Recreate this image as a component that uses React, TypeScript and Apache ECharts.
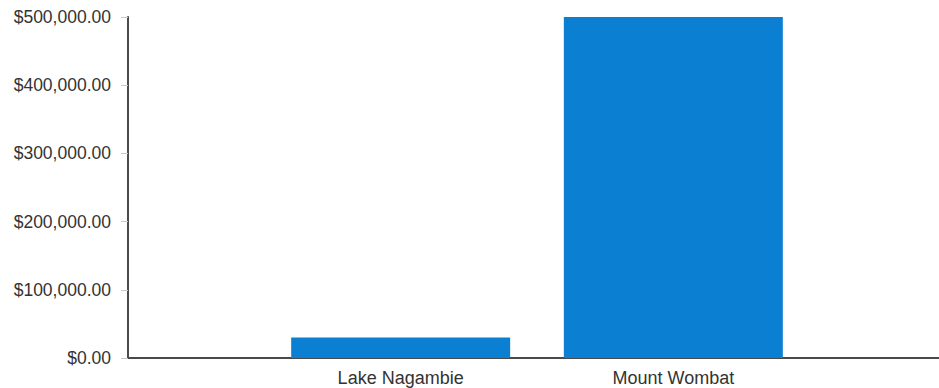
import React, { useEffect, useRef } from "react";
import * as echarts from "echarts";

const categories = ["", "Lake Nagambie", "Mount Wombat", ""];
const values: (number | null)[] = [null, 30000, 500000, null];
const yTicks = [0, 100000, 200000, 300000, 400000, 500000];

function fmt(v: number): string {
  const s = v.toFixed(2);
  const [i, d] = s.split(".");
  return "$" + i.replace(/\B(?=(\d{3})+(?!\d))/g, ",") + "." + d;
}

export default function App() {
  const ref = useRef<HTMLDivElement>(null);
  useEffect(() => {
    if (!ref.current) return;
    const chart = echarts.init(ref.current, null, { renderer: "svg" });
    chart.setOption({
      animation: false,
      backgroundColor: "#ffffff",
      grid: { left: 128, top: 17, bottom: 30, width: 818, containLabel: false },
      xAxis: {
        type: "category",
        data: categories,
        boundaryGap: false,
        axisLine: { show: true, lineStyle: { color: "#4a4a4a", width: 2 } },
        axisTick: { show: false },
        axisLabel: {
          color: "#333",
          fontFamily: "Liberation Sans, Arial, sans-serif",
          fontSize: 18,
          margin: 11,
          interval: 0,
        },
        splitLine: { show: false },
      },
      yAxis: {
        type: "value",
        min: yTicks[0],
        max: yTicks[yTicks.length - 1],
        interval: 100000,
        axisLine: { show: true, lineStyle: { color: "#4a4a4a", width: 2 } },
        axisTick: { show: true, length: 7, lineStyle: { color: "#c8c8c8" } },
        axisLabel: {
          color: "#333",
          fontFamily: "Liberation Sans, Arial, sans-serif",
          fontSize: 17.5,
          margin: 17,
          formatter: (v: number) => fmt(v),
        },
        splitLine: { show: false },
      },
      series: [
        {
          type: "bar",
          data: values,
          barWidth: 219,
          itemStyle: { color: "#0b80d3" },
        },
      ],
    });
    return () => chart.dispose();
  }, []);
  return (
    <div
      ref={ref}
      style={{ position: "fixed", left: 0, top: 0, width: 960, height: 388 }}
    />
  );
}
